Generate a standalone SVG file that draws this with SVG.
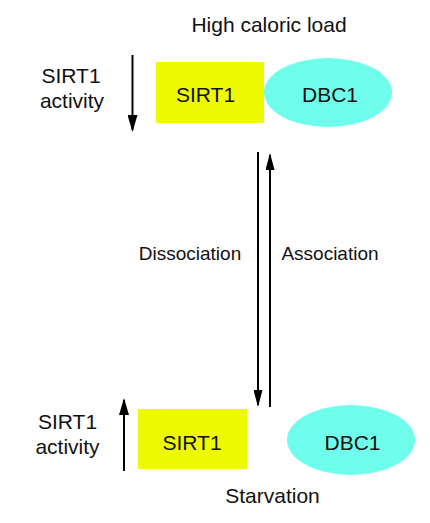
<svg xmlns="http://www.w3.org/2000/svg" width="430" height="523" viewBox="0 0 430 523">
<style>
text{font-family:"Liberation Sans",Arial,sans-serif;fill:#111;}
.big{font-size:21px;}
.mid{font-size:19px;}
.sirt{fill:#eefb00;}
.dbc{fill:#6ffdec;}
.ln{stroke:#000;stroke-width:2;fill:none;}
</style>
<defs>
<marker id="ah" markerWidth="17" markerHeight="10" refX="15" refY="5" viewBox="0 0 17 10" orient="auto" markerUnits="userSpaceOnUse">
<path d="M0,0 L17,5 L0,10 z" fill="#000"/>
</marker>
<marker id="ahs" markerWidth="17" markerHeight="9" refX="15" refY="4.5" viewBox="0 0 17 9" orient="auto" markerUnits="userSpaceOnUse">
<path d="M0,0 L17,4.5 L0,9 z" fill="#000"/>
</marker>
</defs>
<g id="title-top"><text class="big" x="269" y="32" text-anchor="middle">High caloric load</text></g>
<g id="label-top"><text class="big" x="71" y="83" text-anchor="middle">SIRT1</text><text class="big" x="72" y="108" text-anchor="middle">activity</text></g>
<g id="sirt1-top"><rect class="sirt" x="156" y="62" width="108" height="61"/><text class="big" x="205.5" y="102" text-anchor="middle">SIRT1</text></g>
<g id="dbc1-top"><ellipse class="dbc" cx="328" cy="92.5" rx="64" ry="34.5"/><text class="big" x="330" y="102" text-anchor="middle">DBC1</text></g>
<g id="label-bottom"><text class="big" x="67.5" y="429" text-anchor="middle">SIRT1</text><text class="big" x="67.5" y="454" text-anchor="middle">activity</text></g>
<g id="sirt1-bottom"><rect class="sirt" x="138" y="409" width="109" height="60"/><text class="big" x="192" y="450" text-anchor="middle">SIRT1</text></g>
<g id="dbc1-bottom"><ellipse class="dbc" cx="351" cy="440" rx="64" ry="35"/><text class="big" x="352.5" y="450" text-anchor="middle">DBC1</text></g>
<g id="title-bottom"><text class="big" x="272.5" y="503" text-anchor="middle">Starvation</text></g>
<g id="connectors">
<line class="ln" x1="132.5" y1="55" x2="132.5" y2="130" marker-end="url(#ah)"/>
<line class="ln" x1="124" y1="471" x2="124" y2="400" marker-end="url(#ah)"/>
<line class="ln" x1="258" y1="152" x2="258" y2="405" marker-end="url(#ahs)"/>
<line class="ln" x1="270" y1="407" x2="270" y2="155" marker-end="url(#ahs)"/>
<text class="mid" x="190" y="260" text-anchor="middle">Dissociation</text>
<text class="mid" x="330" y="260" text-anchor="middle">Association</text>
</g>
</svg>
